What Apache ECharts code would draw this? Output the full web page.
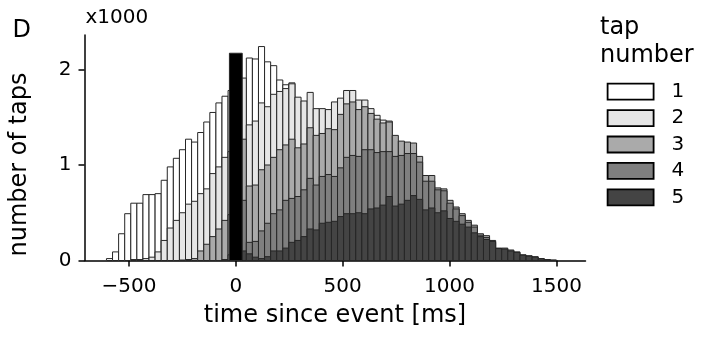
<!DOCTYPE html>
<html>
<head>
<meta charset="utf-8">
<style>
    html, body { margin: 0; padding: 0; background: #fff; }
    #tap-hist { width: 717px; height: 337px; }
</style>
</head>
<body>
<div id="tap-hist"></div>
<script src="https://cdn.jsdelivr.net/npm/echarts@6/dist/echarts.min.js"></script>
<script>
    // histogram bins in ms: left edge of the first bin and bin width
    var firstBinStart = -605.25;
    var binWidth = 28.45;

    // number of taps per bin (x1000), one array per tap number
    var tap1 = [0.02, 0.09, 0.28, 0.49, 0.60, 0.60, 0.69, 0.69, 0.70, 0.84, 0.98, 1.07, 1.16, 1.27, 1.24, 1.34, 1.45, 1.55, 1.65, 1.72, 1.78,
        1.84, 1.88,
        2.12, 2.11, 2.24, 2.08, 2.04, 1.89, 1.84, 1.86,
        1.62, 1.50, 1.36, 1.24, 1.10, 0.98, 0.86, 0.74, 0.62, 0.52, 0.43, 0.34, 0.27, 0.21, 0.16, 0.12, 0.09, 0.07, 0.05, 0.04, 0.03, 0.02, 0.01,
        0, 0, 0, 0, 0, 0, 0, 0, 0, 0, 0, 0, 0, 0, 0, 0, 0, 0, 0, 0];
    var tap2 = [0, 0, 0, 0,
        0.01, 0.01, 0.02, 0.035, 0.09, 0.21, 0.34, 0.42, 0.50, 0.59, 0.62, 0.70, 0.75, 0.91, 0.98, 1.08, 1.14,
        1.50,
        1.91, 1.42, 1.46, 1.65, 1.61, 1.74, 1.77, 1.80, 1.85, 1.71, 1.67, 1.76, 1.59, 1.59, 1.58, 1.66, 1.70, 1.78, 1.78, 1.68, 1.68, 1.59, 1.52, 1.47, 1.46,
        1.20, 1.08, 0.98, 0.88, 0.78, 0.64, 0.54, 0.45, 0.38, 0.30, 0.25, 0.20, 0.15, 0.12, 0.09, 0.07, 0.05, 0.04, 0.03, 0.02, 0.01, 0, 0, 0, 0, 0, 0];
    var tap3 = [0, 0, 0, 0, 0, 0, 0, 0, 0, 0, 0, 0,
        0.005, 0.01, 0.02, 0.10, 0.17, 0.25, 0.33, 0.42, 0.48,
        0.90,
        1.27, 0.78, 0.79, 0.95, 1.00, 1.08, 1.16, 1.21, 1.27, 1.18, 1.22, 1.39, 1.31, 1.33, 1.38, 1.37, 1.53, 1.64, 1.66, 1.58, 1.61, 1.54, 1.48, 1.44, 1.45,
        1.31, 1.25, 1.24, 1.23, 1.09, 0.89, 0.89, 0.76, 0.75, 0.63, 0.56, 0.49, 0.42, 0.37, 0.28, 0.26,
        0.19, 0.12, 0.10, 0.07, 0.05, 0.03, 0.02, 0.01, 0, 0, 0];
    var tap4 = [0, 0, 0, 0, 0, 0, 0, 0, 0, 0, 0, 0, 0, 0, 0, 0, 0, 0, 0,
        0.01, 0.06, 0.35,
        0.63, 0.19, 0.20, 0.31, 0.39, 0.49, 0.53, 0.63, 0.65, 0.67, 0.74, 0.86, 0.79, 0.88, 0.90, 0.88, 0.97, 1.08, 1.10, 1.09, 1.16, 1.16, 1.13, 1.14, 1.14,
        1.09, 1.10, 1.12, 1.12, 1.03, 0.83, 0.83, 0.74, 0.73, 0.60, 0.54, 0.47, 0.40, 0.35, 0.265, 0.24,
        0.21, 0.13, 0.13, 0.11, 0.09, 0.06, 0.05, 0.04, 0.02, 0.01, 0.005];
    var tap5 = [0, 0, 0, 0, 0, 0, 0, 0, 0, 0, 0, 0, 0, 0, 0, 0, 0, 0, 0, 0, 0, 0,
        0.10, 0.07, 0.035, 0.02, 0.04, 0.10, 0.10, 0.13, 0.19, 0.21, 0.25, 0.33, 0.32, 0.39, 0.40, 0.41, 0.46, 0.49, 0.49, 0.50, 0.49, 0.54, 0.55, 0.58, 0.67,
        0.57, 0.59, 0.63, 0.68, 0.64, 0.53, 0.55, 0.50, 0.52, 0.44, 0.41, 0.38, 0.35, 0.29, 0.25, 0.22,
        0.20, 0.125, 0.12, 0.10, 0.085, 0.055, 0.045, 0.035, 0.018, 0.008, 0.003];

    var tapNames = ['1', '2', '3', '4', '5'];
    var tapColors = ['#ffffff', '#e6e6e6', '#aaaaaa', '#7f7f7f', '#444444'];

    // black bar marking the event
    var eventRange = [-30, 30];
    var eventHeight = 2.17;

    var xTicks = [-500, 0, 500, 1000, 1500];
    var yTicks = [0, 1, 2];

    var font = 'DejaVu Sans';

    function binData(values) {
        var out = [];
        values.forEach(function (v, i) {
            if (v > 0) out.push([firstBinStart + i * binWidth, firstBinStart + (i + 1) * binWidth, v]);
        });
        return out;
    }

    function barRenderer(fill) {
        return function (params, api) {
            var topLeft = api.coord([api.value(0), api.value(2)]);
            var bottomRight = api.coord([api.value(1), 0]);
            return {
                type: 'rect',
                shape: {
                    x: topLeft[0],
                    y: topLeft[1],
                    width: bottomRight[0] - topLeft[0],
                    height: bottomRight[1] - topLeft[1]
                },
                style: { fill: fill, stroke: '#262626', lineWidth: 1 }
            };
        };
    }

    var taps = [tap1, tap2, tap3, tap4, tap5];
    var series = taps.map(function (vals, i) {
        return {
            name: tapNames[i],
            type: 'custom',
            renderItem: barRenderer(tapColors[i]),
            itemStyle: { color: tapColors[i] },
            encode: { x: [0, 1], y: 2 },
            data: binData(vals),
            animation: false
        };
    });
    series.push({
        name: 'event',
        type: 'custom',
        renderItem: barRenderer('#000000'),
        encode: { x: [0, 1], y: 2 },
        data: [[eventRange[0], eventRange[1], eventHeight]],
        animation: false
    });

    var myChart = echarts.init(document.getElementById('tap-hist'));
    myChart.setOption({
        animation: false,
        grid: { left: 84.5, right: 131.5, top: 35, bottom: 76.5 },
        xAxis: {
            type: 'value',
            min: -708,
            max: 1636,
            axisLine: { onZero: false, lineStyle: { color: '#000', width: 1.5 } },
            axisTick: { customValues: xTicks, length: 6, lineStyle: { color: '#000', width: 1.5 } },
            axisLabel: {
                customValues: xTicks,
                margin: 16,
                fontFamily: font,
                fontSize: 20,
                color: '#000',
                formatter: function (v) { return String(v).replace('-', '\u2212'); }
            },
            splitLine: { show: false }
        },
        yAxis: {
            type: 'value',
            min: 0,
            max: 2.361,
            axisLine: { show: true, onZero: false, lineStyle: { color: '#000', width: 1.5 } },
            axisTick: { show: true, customValues: yTicks, length: 6, lineStyle: { color: '#000', width: 1.5 } },
            axisLabel: { customValues: yTicks, margin: 13, fontFamily: font, fontSize: 20, color: '#000' },
            splitLine: { show: false }
        },
        legend: {
            orient: 'vertical',
            left: 601.7,
            top: 76.7,
            itemWidth: 46,
            itemHeight: 16,
            itemGap: 6.4,
            icon: 'rect',
            selectedMode: false,
            data: tapNames.map(function (n, i) {
                return { name: n, itemStyle: { color: tapColors[i], borderColor: '#000', borderWidth: 1.8 } };
            }),
            textStyle: { fontFamily: font, fontSize: 20, color: '#000', lineHeight: 16, padding: [0, 0, 0, 13] }
        },
        graphic: [
            { type: 'text', left: 12.5, top: 19, style: { text: 'D', font: '24px "DejaVu Sans"', fill: '#000' } },
            { type: 'text', left: 85.5, top: 8, style: { text: 'x1000', font: '20px "DejaVu Sans"', fill: '#000' } },
            { type: 'text', left: 600, top: 16, style: { text: 'tap', font: '24px "DejaVu Sans"', fill: '#000' } },
            { type: 'text', left: 600, top: 44, style: { text: 'number', font: '24px "DejaVu Sans"', fill: '#000' } },
            {
                type: 'text', x: 20, y: 164.5, rotation: Math.PI / 2,
                style: { text: 'number of taps', font: '24px "DejaVu Sans"', fill: '#000', align: 'center', verticalAlign: 'middle' }
            },
            {
                type: 'text', x: 335, y: 316,
                style: { text: 'time since event [ms]', font: '24px "DejaVu Sans"', fill: '#000', align: 'center', verticalAlign: 'middle' }
            }
        ],
        series: series
    });
</script>
</body>
</html>
